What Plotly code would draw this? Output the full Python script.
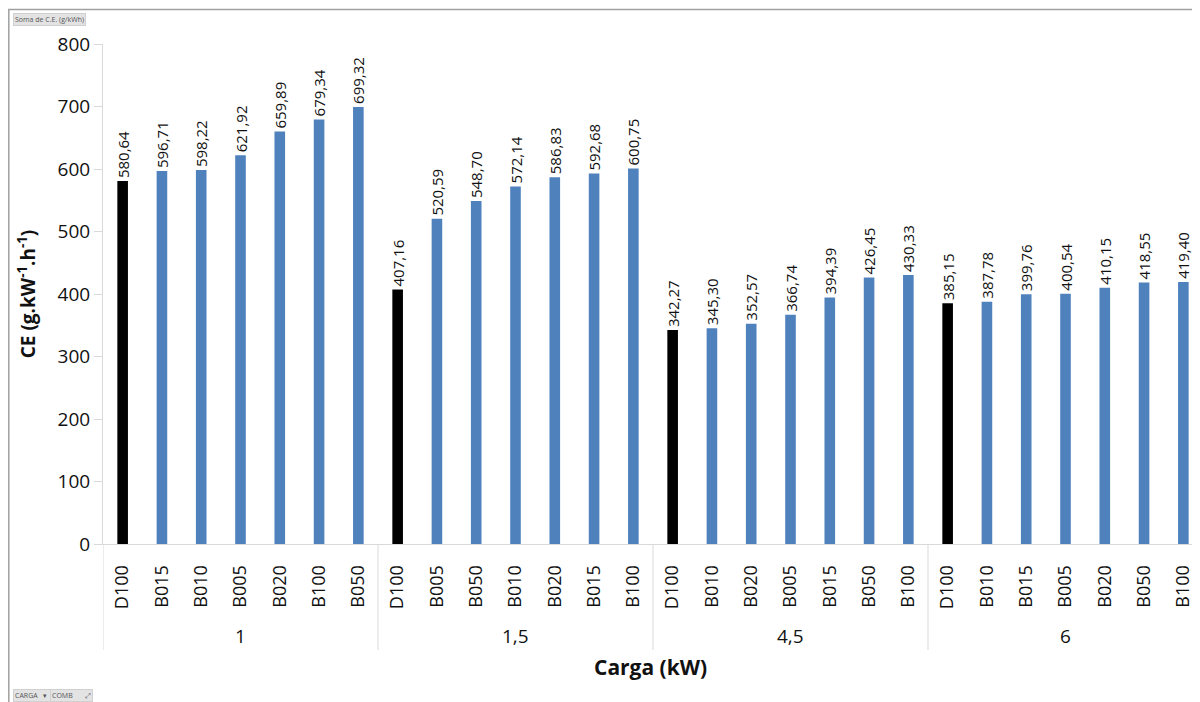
import plotly.graph_objects as go

cargas = ["1", "1,5", "4,5", "6"]
combs_1 = ["D100", "B015", "B010", "B005", "B020", "B100", "B050"]
vals_1 = [580.64, 596.71, 598.22, 621.92, 659.89, 679.34, 699.32]
combs_15 = ["D100", "B005", "B050", "B010", "B020", "B015", "B100"]
vals_15 = [407.16, 520.59, 548.70, 572.14, 586.83, 592.68, 600.75]
combs_45 = ["D100", "B010", "B020", "B005", "B015", "B050", "B100"]
vals_45 = [342.27, 345.30, 352.57, 366.74, 394.39, 426.45, 430.33]
combs_6 = ["D100", "B010", "B015", "B005", "B020", "B050", "B100"]
vals_6 = [385.15, 387.78, 399.76, 400.54, 410.15, 418.55, 419.40]

groups = [combs_1, combs_15, combs_45, combs_6]
values = [vals_1, vals_15, vals_45, vals_6]

keys, inner, ys = [], [], []
for g, cs, vs in zip(cargas, groups, values):
    for c, v in zip(cs, vs):
        keys.append(f"{g}|{c}")
        inner.append(c)
        ys.append(v)

colors = ["#000000" if c == "D100" else "#4F81BD" for c in inner]
labels = [f"{v:.2f}".replace(".", ",") for v in ys]

FONT = "Open Sans"
GRID = "#d9d9d9"

# page-pixel -> paper helpers (page has 8px body offset; plot area 103..1203 x 44..544)
def px(x):
    return (x - 103) / 1100

def py(y):
    return (544 - y) / 500

fig = go.Figure(go.Bar(
    x=keys, y=ys,
    marker=dict(color=colors, line=dict(width=0)),
    width=0.27,
    text=labels, textposition="outside", textangle=-90,
    constraintext="none",
    textfont=dict(family=FONT, size=15, color="#111"),
    cliponaxis=False,
))

shapes = []
annotations = []
start = 0
bounds = [-0.5]
for g, cs in zip(cargas, groups):
    n = len(cs)
    bounds.append(start + n - 0.5)
    annotations.append(dict(text=g, xref="x", yref="paper", x=start + (n - 1) / 2, y=py(636),
                            xanchor="center", yanchor="middle", showarrow=False,
                            font=dict(family=FONT, size=19, color="#111")))
    start += n
for b in bounds:
    shapes.append(dict(type="line", xref="x", yref="paper", x0=b, x1=b, y0=0, y1=py(650),
                       line=dict(color=GRID, width=1)))

shapes.append(dict(type="rect", xref="paper", yref="paper",
                   x0=px(8.8), x1=1.05, y0=-0.5, y1=py(9.5),
                   line=dict(color="#a0a0a0", width=1.5), fillcolor="rgba(0,0,0,0)", layer="below"))

annotations += [
    dict(text="Soma de C.E. (g/kWh)", xref="paper", yref="paper",
         x=px(13), y=py(19.5), xanchor="left", yanchor="middle",
         showarrow=False, font=dict(family=FONT, size=7, color="#555"),
         bgcolor="#e3e3e3", bordercolor="#d0d0d0", borderpad=1),
    dict(text="CARGA   ▾ ", xref="paper", yref="paper",
         x=px(13), y=py(695), xanchor="left", yanchor="middle",
         showarrow=False, font=dict(family=FONT, size=7, color="#555"),
         bgcolor="#e3e3e3", bordercolor="#d0d0d0", borderpad=1),
    dict(text="COMB       ⤢", xref="paper", yref="paper",
         x=px(50), y=py(695), xanchor="left", yanchor="middle",
         showarrow=False, font=dict(family=FONT, size=7, color="#555"),
         bgcolor="#e3e3e3", bordercolor="#d0d0d0", borderpad=1),
    dict(text="<b>Carga (kW)</b>", xref="paper", yref="paper", x=px(650), y=py(667),
         xanchor="center", yanchor="middle", showarrow=False,
         font=dict(family=FONT, size=21, color="#111")),
]

fig.update_layout(
    width=1200, height=702,
    margin=dict(l=95, r=5, t=36, b=166),
    plot_bgcolor="white", paper_bgcolor="white",
    font=dict(family=FONT, color="#111"),
    showlegend=False,
    xaxis=dict(
        type="category",
        tickmode="array", tickvals=keys, ticktext=inner,
        tickangle=-90,
        tickfont=dict(family=FONT, size=18, color="#111"),
        showline=True, linecolor=GRID, linewidth=1,
        ticks="outside", ticklen=13, tickcolor="rgba(0,0,0,0)",
        showgrid=False, automargin=False,
        range=[-0.5, 27.5],
    ),
    yaxis=dict(
        range=[0, 800], dtick=100,
        tickfont=dict(family=FONT, size=19, color="#111"),
        showline=True, linecolor=GRID, linewidth=1,
        ticks="outside", ticklen=8, tickcolor=GRID,
        showgrid=False, zeroline=False, automargin=False,
        title=dict(text="<b>CE (g.kW<sup>-1</sup>.h<sup>-1</sup>)</b>",
                   font=dict(family=FONT, size=19, color="#111"), standoff=16),
    ),
    shapes=shapes,
    annotations=annotations,
)

fig.write_html("out.html")
